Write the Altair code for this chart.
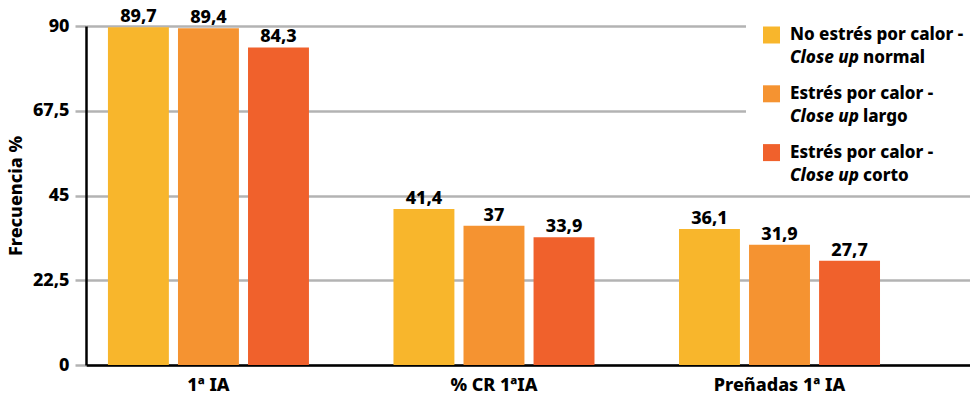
import altair as alt
import pandas as pd

# Data
grupos = ["1ª IA", "% CR 1ªIA", "Preñadas 1ª IA"]
series = [
    "No estrés por calor - Close up normal",
    "Estrés por calor - Close up largo",
    "Estrés por calor - Close up corto",
]
normal = [89.7, 41.4, 36.1]
largo = [89.4, 37.0, 31.9]
corto = [84.3, 33.9, 27.7]
colores = ["#F8B62C", "#F59331", "#F0612C"]
ticks_y = [0, 22.5, 45, 67.5, 90]

# Legend text, split into the plain first line and the two parts of the second
leyenda_l1 = ["No estrés por calor -", "Estrés por calor -", "Estrés por calor -"]
leyenda_cursiva = ["Close up", "Close up", "Close up"]
leyenda_fin = ["normal", "largo", "corto"]

rows = []
for s, vals in zip(series, [normal, largo, corto]):
    for g, v in zip(grupos, vals):
        rows.append({"grupo": g, "serie": s, "valor": v})
df = pd.DataFrame(rows)

FONT = "Noto Sans"
PESO = 800
W, H = 884, 339

x_enc = alt.X(
    "grupo:N",
    sort=grupos,
    scale=alt.Scale(paddingInner=0.296, paddingOuter=0.196, align=0.196),
    axis=alt.Axis(
        title=None, labelAngle=0, ticks=False, domainColor="black", domainWidth=2.5,
        labelFont=FONT, labelFontSize=18, labelFontWeight=PESO, labelColor="black",
        labelPadding=11,
    ),
)
xo_enc = alt.XOffset("serie:N", sort=series, scale=alt.Scale(paddingInner=0.13, paddingOuter=0))
y_enc = alt.Y(
    "valor:Q",
    scale=alt.Scale(domain=[0, 90], nice=False),
    axis=alt.Axis(
        title="Frecuencia %", values=ticks_y,
        labelExpr="replace(format(datum.value, '~g'), '.', ',')",
        domainColor="black", domainWidth=2.5,
        gridColor="#B3B3B3", gridWidth=2.5,
        tickColor="#B3B3B3", tickWidth=2.5, tickSize=11,
        labelFont=FONT, labelFontSize=18, labelFontWeight=PESO, labelColor="black",
        labelPadding=6,
        titleFont=FONT, titleFontSize=18, titleFontWeight=PESO, titleColor="black",
        titlePadding=7,
    ),
)
color_enc = alt.Color("serie:N", sort=series, scale=alt.Scale(domain=series, range=colores), legend=None)

bars = alt.Chart(df).mark_bar().encode(x=x_enc, xOffset=xo_enc, y=y_enc, color=color_enc)

labels = (
    alt.Chart(df)
    .transform_calculate(lbl="replace(toString(datum.valor), '.', ',')")
    .mark_text(font=FONT, fontSize=18, fontWeight=PESO, color="black", baseline="alphabetic", dy=-5)
    .encode(x=x_enc, xOffset=xo_enc, y=alt.Y("valor:Q"), text="lbl:N")
)

# Legend box drawn over the grid in the upper right corner
leg_df = pd.DataFrame({"serie": series})
fondo = alt.Chart(leg_df.head(1)).mark_rect(color="white").encode(
    x=alt.value(660), x2=alt.value(W), y=alt.value(-16), y2=alt.value(168)
)
capas = [bars, labels, fondo]
row_step = 58.8
for i in range(3):
    y1 = 9 + i * row_step
    y2 = y1 + 23
    d = pd.DataFrame({"serie": [series[i]], "l1": [leyenda_l1[i]], "it": [leyenda_cursiva[i]], "fin": [leyenda_fin[i]]})
    base = alt.Chart(d)
    capas.append(
        base.mark_rect(color=colores[i]).encode(
            x=alt.value(677), x2=alt.value(694), y=alt.value(y1 - 8.5), y2=alt.value(y1 + 8.5)
        )
    )
    txt = dict(font=FONT, fontSize=17, fontWeight=PESO, color="black", align="left", baseline="middle")
    capas.append(base.mark_text(**txt).encode(x=alt.value(704), y=alt.value(y1), text="l1:N"))
    capas.append(base.mark_text(fontStyle="italic", **txt).encode(x=alt.value(704), y=alt.value(y2), text="it:N"))
    capas.append(base.mark_text(**txt).encode(x=alt.value(777), y=alt.value(y2), text="fin:N"))

chart = (
    alt.layer(*capas)
    .properties(
        width=W, height=H,
        autosize=alt.AutoSizeParams(type="none"),
        padding={"left": 86, "top": 26, "right": 0, "bottom": 31},
        background="white",
    )
    .configure_view(stroke=None)
)

chart.save("out.html", embed_options={"renderer": "svg", "actions": False})
